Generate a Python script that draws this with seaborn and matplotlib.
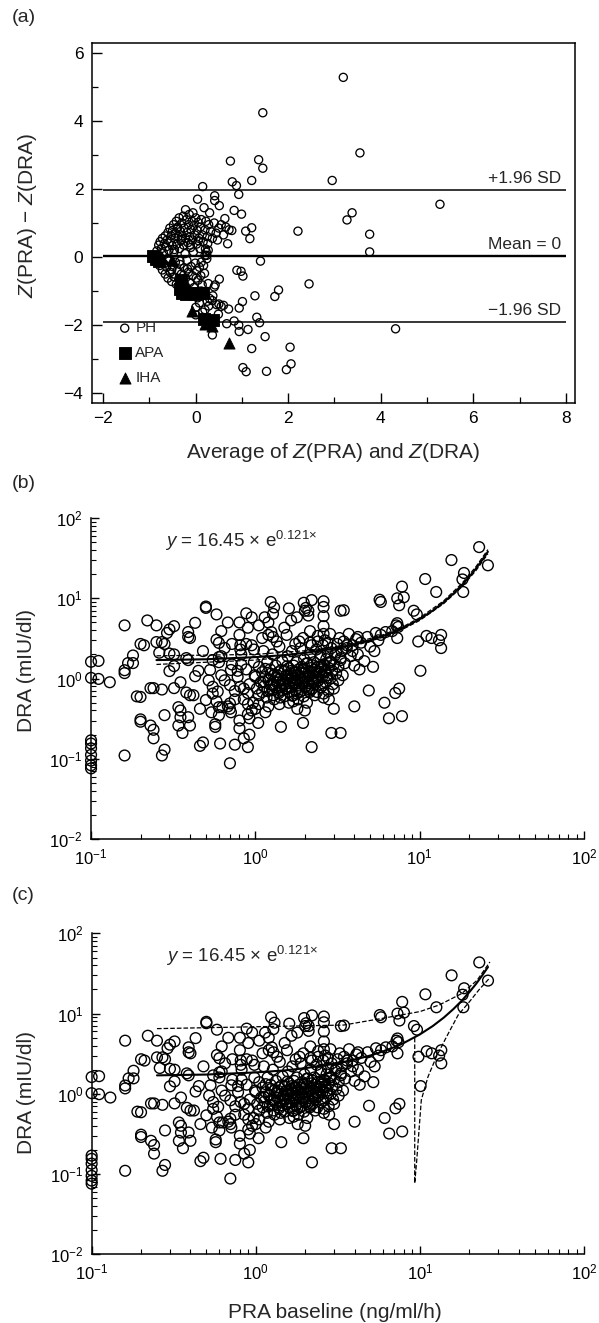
# Bland-Altman plot of PRA vs DRA z-scores, plus DRA vs PRA scatter with exponential fit

import matplotlib
matplotlib.use("Agg")
import matplotlib.pyplot as plt
import seaborn as sns
from matplotlib import font_manager
from matplotlib.ticker import MultipleLocator, LogLocator, NullFormatter

# ---- panel (a): Bland-Altman data ----
ph_avg = [3.19, 1.45, 3.55, 0.75, 1.36, 1.45, 2.95, 1.21, 0.79, 0.88, 0.15, 0.93, 5.28, 0.41, 0.04,
          0.41, 0.51, -0.22, 0.83, 0.99, 3.38, 3.27, 0.63, 1.21, 1.08, 2.21, 1.17, 3.76, 3.76, 0.69,
          1.40, 2.45, 0.89, 1.02, 0.98, 0.51, 1.28, 1.71, 1.79, 1.01, 0.94, 0.71, 4.32, 1.32, 1.38,
          0.93, 0.94, 1.13, 1.50, 1.21, 2.04, 1.02, 1.09, 1.53, 1.96, 2.06, 0.36, 0.67, 0.83, 0.49,
          0.37, 0.36, 0.28, 0.50, 0.60, 0.00, 0.00, 0.18, 0.40, 0.27, 0.42, 0.21, 0.23, 0.24,
          -0.84, -0.80, -0.77, -0.74, -0.72, -0.70, -0.68, -0.66, -0.64, -0.62, -0.60, -0.58, -0.56,
          -0.55, -0.53, -0.51, -0.50, -0.48, -0.47, -0.45, -0.44, -0.42, -0.41, -0.39, -0.38, -0.36,
          -0.35, -0.33, -0.32, -0.30, -0.29, -0.27, -0.26, -0.25, -0.23, -0.22, -0.20, -0.19, -0.17,
          -0.16, -0.14, -0.13, -0.11, -0.10, -0.08, -0.07, -0.05, -0.04, -0.02, 0.00, 0.02, 0.03,
          0.05, 0.07, 0.09, 0.10, 0.12, 0.14, 0.16, 0.18, 0.20, 0.22, 0.25, 0.28, 0.30, 0.32, 0.36,
          0.40, 0.44, 0.47, 0.50, 0.55, 0.60, 0.65, 0.72, 0.78, 0.20, 0.24, 0.27, 0.12,
          -0.82, -0.78, -0.75, -0.72, -0.69, -0.66, -0.63, -0.60, -0.58, -0.55, -0.52, -0.50, -0.47,
          -0.44, -0.42, -0.40, -0.37, -0.34, -0.31, -0.28, -0.25, -0.22, -0.19, -0.16, -0.13, -0.10,
          -0.07, -0.04, -0.01, 0.02, 0.05, 0.08, 0.11, 0.14, 0.17, 0.04, 0.08, -0.02, 0.12, 0.20,
          0.15, 0.45, 0.55, 0.25, 0.30,
          -0.62, -0.46, -0.31, -0.12, 0.06, 0.26, -0.52, -0.34, -0.18, 0.01, 0.19, -0.40, -0.06]
ph_diff = [5.28, 4.24, 3.06, 2.82, 2.86, 2.61, 2.25, 2.25, 2.21, 2.10, 2.07, 1.84, 1.55, 1.80, 1.70,
           1.66, 1.51, 1.39, 1.37, 1.26, 1.30, 1.09, 1.13, 0.86, 0.76, 0.76, 0.54, 0.67, 0.15, 0.39,
           -0.12, -0.79, -0.39, -0.56, -0.42, -0.65, -1.14, -1.16, -0.97, -1.31, -1.50, -1.53, -2.11, -1.77, -1.93,
           -2.00, -2.19, -2.13, -2.34, -2.69, -2.65, -3.25, -3.37, -3.36, -3.31, -3.14, -2.29, -1.96, -1.88, -1.68,
           -1.14, -1.28, -1.44, -1.38, -1.42, -1.48, -1.70, -1.78, -0.88, -0.78, -0.82, 0.24, 0.14, 0.05,
           0.18, 0.35, 0.45, 0.25, 0.55, 0.12, 0.40, 0.62, 0.30, 0.50, 0.72, 0.20, 0.85,
           0.45, 0.62, 0.33, 0.78, 0.95, 0.15, 0.55, 0.70, 1.05, 0.38, 0.88, 0.60, 1.15,
           0.25, 0.75, 0.48, 1.00, 0.62, 1.20, 0.35, 0.85, 0.10, 0.55, 1.10, 0.72, 0.42,
           0.95, 1.25, 0.60, 0.28, 0.80, 1.05, 0.50, 0.15, 0.92, 0.65, 1.15, 0.38, 0.78,
           1.02, 0.55, 0.25, 0.88, 1.10, 0.65, 0.45, 1.45, 0.80, 1.05, 0.60, 0.95, 1.30, 0.75, 0.55,
           1.00, 0.70, 0.50, 0.85, 0.95, 0.65, 0.88, 0.80, 0.78, 0.05, -0.05, 0.20, -0.15,
           -0.12, -0.25, -0.08, -0.38, -0.20, -0.50, -0.30, -0.62, -0.12, -0.45, -0.72, -0.28, -0.58,
           -0.15, -0.80, -0.40, -0.65, -0.22, -0.50, -0.85, -0.32, -0.62, -0.10, -0.45, -0.75, -0.28,
           -0.55, -0.90, -0.18, -0.40, -0.68, -0.30, -0.55, -0.82, -0.25, -1.20, -1.35, -1.05, -1.00, -1.55,
           -1.62, -1.40, -1.45, -1.30, -1.22,
           -0.05, 0.22, 0.52, 0.35, 0.48, 0.40, -0.38, -0.12, -0.35, -0.62, -0.48, 0.85, 1.30]
apa_avg = [-0.93, -0.85, -0.80, -0.31, -0.34, -0.30, -0.22, -0.12, -0.02, 0.08, 0.16, 0.18, 0.38]
apa_diff = [0.03, -0.05, -0.12, -0.67, -0.95, -1.07, -1.10, -1.07, -1.08, -1.06, -1.07, -1.81, -1.86]
iha_avg = [-0.72, -0.52, -0.22, -0.08, 0.20, 0.35, 0.72]
iha_diff = [-0.02, -0.08, -0.78, -1.60, -1.98, -2.02, -2.53]
sd_upper = 1.96
mean_line = 0.03
sd_lower = -1.90

# ---- panels (b) and (c): PRA baseline vs DRA ----
pra = [0.1, 0.1, 0.1, 0.1, 0.1, 0.1, 0.1, 0.1, 0.1, 0.111, 0.111, 0.13, 0.16, 0.16, 0.16, 0.168, 0.18,
       0.18, 0.16, 0.19, 0.2, 0.2, 0.21, 0.22, 0.2, 0.2, 0.23, 0.24, 0.23, 0.24, 0.24, 0.25, 0.25,
       0.26, 0.27, 0.28, 0.27, 0.27, 0.28, 0.28, 0.29, 0.3, 0.32, 0.3, 0.32, 0.3, 0.32, 0.32, 0.34,
       0.34, 0.35, 0.35, 0.36, 0.39, 0.39, 0.39, 0.38, 0.39, 0.4, 0.4, 0.4, 0.43, 0.43, 0.46, 0.48,
       0.46, 0.5, 0.5, 0.5, 0.53, 0.55, 0.54, 0.57, 0.57, 0.58, 0.58, 0.6, 0.6, 0.6, 0.59, 0.6, 0.61,
       0.62, 0.63, 0.68, 0.7, 0.71, 0.7, 0.7, 0.71, 0.75, 0.78, 0.8, 0.8, 0.81, 0.81, 0.81, 0.8, 0.85,
       0.88, 0.9, 0.88, 0.9, 0.9, 0.92, 0.9, 0.95, 0.98, 0.99, 0.97, 1.0, 1.05, 1.04, 1.24, 1.14, 1.2,
       1.28, 1.3, 1.2, 1.28, 1.43, 1.5, 1.6, 1.65, 1.79, 1.85, 1.97, 2.0, 2.03, 2.2, 2.1, 2.1, 2.15,
       1.95, 2.2, 2.6, 2.6, 2.6, 2.6, 2.6, 2.4, 2.9, 3.0, 3.3, 3.45, 3.3, 4.0, 4.9, 5.3, 5.7, 5.8, 6.1,
       6.5, 7.1, 7.5, 7.8, 7.3, 7.8, 8.0, 7.5, 7.3, 7.4, 7.3, 9.2, 9.6, 9.8, 10.1, 10.8, 11.0, 11.8,
       12.6, 13.1, 13.5, 13.5, 15.6, 18.6, 18.2, 18.4, 23.0, 26.0,
       1.00, 1.02, 1.05, 1.05, 1.08, 1.10, 1.10, 1.12, 1.13, 1.15, 1.17, 1.18, 1.20, 1.22, 1.23, 1.25,
       1.27, 1.28, 1.30, 1.32, 1.33, 1.35, 1.37, 1.38, 1.40, 1.41, 1.43, 1.45, 1.46, 1.48, 1.50, 1.50,
       1.52, 1.54, 1.55, 1.57, 1.58, 1.60, 1.60, 1.62, 1.64, 1.65, 1.67, 1.68, 1.70, 1.71, 1.73, 1.75,
       1.76, 1.78, 1.80, 1.82, 1.83, 1.85, 1.87, 1.88, 1.90, 1.92, 1.94, 1.95, 1.97, 1.98, 2.00, 2.02,
       2.04, 2.06, 2.08, 2.10, 2.12, 2.14, 2.16, 2.18, 2.20, 2.22, 2.25, 2.27, 2.30, 2.32, 2.35, 2.37,
       2.40, 2.42, 2.45, 2.48, 2.50, 2.52, 2.55, 2.58, 2.60, 2.62, 2.65, 2.68, 2.70, 2.72, 2.75, 2.78,
       2.80, 2.83, 2.86, 2.90, 2.93, 2.96, 3.00, 3.05, 3.10, 3.15, 3.20, 3.25, 3.30, 3.35, 3.40, 3.45,
       3.50, 3.60, 3.70, 3.80, 3.90, 4.00, 4.10, 4.20, 4.30, 4.40, 4.60, 4.80, 5.00, 5.20, 5.40, 5.60,
       5.80, 6.20, 6.80, 7.20, 0.95, 0.98, 0.92, 0.88, 0.85, 0.82, 0.78, 0.75, 0.72, 0.68, 0.65, 0.62,
       0.58, 0.55, 0.52, 0.48, 0.45, 0.42, 0.38, 0.35, 1.10, 1.25, 1.35, 1.55, 1.75, 1.95, 2.15, 2.40,
       2.65, 2.85, 1.20, 1.40, 1.60, 1.80, 2.00, 1.15, 1.30, 1.05, 0.95, 1.70, 2.30, 2.60, 2.80, 3.00,
       3.20]
dra = [0.17, 0.155, 0.135, 0.112, 0.095, 0.083, 0.076, 1.62, 1.02, 1.66, 0.99, 0.9, 4.6, 1.27, 1.17, 1.56, 1.94,
       1.56, 0.11, 0.6, 0.59, 2.7, 2.6, 5.3, 0.31, 0.29, 0.76, 0.76, 0.26, 0.23, 0.18, 4.6, 2.85,
       2.1, 2.85, 2.7, 0.73, 0.11, 0.35, 0.13, 3.7, 4.1, 4.5, 2.05, 2.0, 1.24, 0.76, 1.43, 0.44,
       0.26, 0.33, 0.4, 0.21, 3.8, 3.3, 1.7, 0.67, 0.33, 0.26, 0.62, 3.2, 1.07, 4.95, 0.145, 0.16,
       0.42, 0.54, 7.9, 7.6, 1.28, 0.79, 0.38, 0.27, 0.25, 6.3, 3.05, 2.78, 1.85, 1.6, 0.69, 0.44, 0.155,
       3.9, 0.44, 5.0, 0.088, 1.28, 0.83, 0.49, 0.38, 0.15, 1.25, 5.0, 3.5, 2.6, 2.3, 0.79, 0.24, 0.18,
       6.5, 4.3, 2.7, 0.66, 0.36, 0.2, 0.14, 5.8, 2.3, 1.1, 0.5, 0.42, 4.6, 0.28, 9.0, 5.8, 5.0,
       6.4, 7.7, 3.5, 3.3, 0.25, 4.3, 7.5, 5.3, 5.8, 2.9, 8.8, 7.0, 7.6, 9.5, 7.0, 6.1, 3.9,
       0.28, 0.14, 9.2, 7.8, 6.0, 4.5, 3.6, 2.9, 0.21, 0.42, 7.0, 7.1, 0.21, 0.45, 0.71, 2.2, 9.6, 9.0, 0.5,
       0.32, 0.66, 0.75, 0.34, 10.0, 14.0, 10.3, 8.2, 4.9, 4.4, 3.2, 7.0, 6.3, 2.9, 1.25, 17.4, 3.4, 3.2,
       12.0, 3.0, 3.5, 2.4, 30.0, 20.7, 17.2, 12.0, 43.5, 25.8,
       1.05, 0.75, 1.40, 0.62, 0.90, 1.20, 0.68, 2.20, 0.80, 1.05, 0.58, 1.60, 0.95, 0.72, 1.30, 0.85,
       2.00, 0.62, 1.10, 0.78, 1.45, 0.90, 0.68, 1.20, 2.50, 0.82, 1.00, 0.72, 1.65, 0.95, 0.60, 1.25,
       0.85, 1.10, 0.75, 1.90, 0.98, 0.68, 1.35, 0.88, 1.15, 0.78, 2.20, 1.02, 0.62, 1.45, 0.90, 1.20,
       0.72, 1.60, 0.95, 0.55, 1.30, 0.82, 1.05, 2.40, 0.70, 1.40, 0.92, 1.15, 0.60, 1.75, 1.00, 0.78,
       1.25, 0.50, 1.55, 0.88, 1.10, 0.68, 2.00, 1.35, 0.95, 0.75, 1.20, 1.60, 0.85, 1.05, 2.30, 0.68,
       1.40, 0.95, 1.15, 1.85, 0.78, 1.30, 1.05, 2.60, 0.65, 1.50, 1.20, 0.90, 1.75, 1.10, 2.10, 0.70,
       1.35, 1.60, 1.00, 2.40, 1.25, 0.85, 1.50, 1.95, 1.15, 2.70, 1.40, 3.20, 1.70, 2.20, 1.10, 2.90,
       1.55, 2.40, 3.60, 1.90, 2.60, 1.45, 3.10, 2.00, 1.30, 2.80, 1.65, 3.30, 2.50, 1.40, 3.70, 3.00,
       3.50, 3.80, 3.90, 4.60, 2.60, 1.60, 0.85, 1.30, 0.55, 2.00, 1.05, 0.70, 1.50, 0.45, 2.40, 1.10,
       0.52, 1.70, 0.95, 2.20, 1.25, 0.62, 1.80, 0.90, 3.20, 3.80, 2.90, 3.50, 2.70, 3.20, 2.80, 3.40,
       3.00, 3.60, 0.45, 0.48, 0.50, 0.42, 0.40, 0.38, 0.55, 0.48, 0.40, 0.52, 0.62, 0.58, 0.55, 0.75,
       0.95]
# the dark core of the cloud
pra_dense = [1.12, 1.18, 1.24, 1.29, 1.34, 1.39, 1.44, 1.49, 1.53, 1.58, 1.63, 1.68, 1.72, 1.77,
             1.82, 1.86, 1.91, 1.96, 2.01, 2.07, 2.13, 2.19, 2.26, 2.33, 2.41, 2.49, 2.57, 2.66,
             1.15, 1.21, 1.27, 1.36, 1.42, 1.47, 1.56, 1.61, 1.66, 1.74, 1.79, 1.89, 1.93, 2.05,
             2.11, 2.24, 2.29, 2.38, 2.46, 2.63, 2.74, 2.88,
             0.55, 0.6, 0.65, 0.7, 0.75, 0.8, 0.85, 0.9, 0.62, 0.72, 0.82, 0.92,
             3.1, 3.3, 3.6, 3.9, 4.2, 2.2, 2.5, 2.75]
dra_dense = [0.92, 0.70, 1.15, 0.83, 1.02, 0.66, 1.28, 0.88, 0.74, 1.08, 0.95, 0.61, 1.22, 0.86,
             1.12, 0.68, 0.99, 1.33, 0.80, 1.05, 0.73, 1.48, 0.90, 1.18, 1.02, 1.38, 0.82, 1.26,
             1.32, 0.98, 0.72, 1.10, 0.58, 0.85, 1.42, 0.77, 1.25, 1.00, 0.65, 1.18, 0.88, 1.55,
             0.70, 1.08, 1.30, 0.92, 1.22, 1.45, 1.02, 1.62,
             0.65, 0.35, 0.95, 0.42, 0.55, 0.30, 0.75, 0.48, 1.9, 2.7, 1.5, 0.32,
             2.1, 1.8, 2.6, 2.2, 3.3, 2.6, 2.0, 2.8]

# fitted curve
curve_x = [0.25, 0.5, 1, 1.5, 2, 3, 4, 5, 6, 7, 8, 10, 12, 14, 16, 18, 20, 22, 24, 26]
curve_y = [1.70, 1.74, 1.85, 1.96, 2.09, 2.36, 2.67, 3.01, 3.40, 3.83, 4.32, 5.51, 7.02, 8.94, 11.4,
           14.5, 18.5, 23.5, 30.0, 38.1]
# 95% confidence band (b)
band_x = [0.25, 1, 2, 3, 4, 6, 8, 10, 14, 18, 22, 26]
band_hi = [1.92, 2.0, 2.22, 2.48, 2.78, 3.52, 4.48, 5.72, 9.3, 15.2, 24.8, 40.5]
band_lo = [1.50, 1.70, 1.96, 2.24, 2.56, 3.28, 4.18, 5.30, 8.6, 13.8, 22.2, 35.8]
# 95% prediction band (c)
pred_hi_x = [0.25, 1.17, 3.43, 5.85, 10, 13.1, 18, 22.3, 26.7]
pred_hi_y = [6.5, 6.9, 7.2, 8.7, 10.6, 12.8, 17.8, 26, 44]
pred_lo_x = [9.3, 9.3, 9.57, 10.2, 11.2, 12.6, 14.5, 17.1, 20, 23, 26.7]
pred_lo_y = [5.0, 0.077, 0.15, 0.84, 1.63, 2.9, 5.1, 9.6, 14, 20, 28]

equation = r"$\mathit{y}$ = 16.45 × e$^{0.121×}$"


def log_panel(ax):
    ax.set_xscale("log")
    ax.set_yscale("log")
    ax.set_xlim(0.1, 100)
    ax.set_ylim(0.01, 100)
    sns.despine(ax=ax)
    for s in ["left", "bottom"]:
        ax.spines[s].set_linewidth(1.1)
        ax.spines[s].set_color("black")
    ax.xaxis.set_minor_locator(LogLocator(base=10, subs=range(2, 10), numticks=20))
    ax.yaxis.set_minor_locator(LogLocator(base=10, subs=range(2, 10), numticks=20))
    ax.xaxis.set_minor_formatter(NullFormatter())
    ax.yaxis.set_minor_formatter(NullFormatter())
    ax.tick_params(which="major", direction="in", length=6, width=1, labelsize=12, pad=6,
                   colors="black")
    ax.tick_params(which="minor", direction="in", length=3.5, width=0.8, colors="black")
    sns.scatterplot(x=pra + pra_dense, y=dra + dra_dense, ax=ax, marker="o", s=60,
                    facecolors="none", edgecolor="black", linewidth=1.0, clip_on=False,
                    legend=False, zorder=3)
    sns.lineplot(x=curve_x, y=curve_y, ax=ax, color="black", linewidth=1.5,
                 estimator=None, sort=False, zorder=4)
    ax.set_xlabel("")
    ax.set_ylabel("")
    ax.text(0.15, 0.93, equation, transform=ax.transAxes, fontsize=13.5, va="center")


def main():
    sns.set_theme(style="ticks")
    names = {f.name for f in font_manager.fontManager.ttflist}
    base = "Liberation Sans" if "Liberation Sans" in names else "DejaVu Sans"
    plt.rcParams["font.family"] = [base, "DejaVu Sans"]
    plt.rcParams["mathtext.fontset"] = "custom"
    plt.rcParams["mathtext.rm"] = base
    plt.rcParams["mathtext.it"] = base + ":italic"
    plt.rcParams["mathtext.default"] = "regular"

    fig = plt.figure(figsize=(5.99, 13.23), dpi=100)
    ax_a = fig.add_axes([0.153, 0.6954, 0.807, 0.2721])
    ax_b = fig.add_axes([0.152, 0.3658, 0.823, 0.2426])
    ax_c = fig.add_axes([0.153, 0.0519, 0.822, 0.2426])

    # ---- (a) ----
    ax_a.hlines([sd_upper, sd_lower], -2, 8, color="black", linewidth=1.1, zorder=1)
    ax_a.hlines(mean_line, -2, 8, color="black", linewidth=1.7, zorder=1)
    sns.scatterplot(x=ph_avg, y=ph_diff, ax=ax_a, marker="o", s=34, facecolors="none",
                    edgecolor="black", linewidth=0.95, label="PH", zorder=3)
    sns.scatterplot(x=apa_avg, y=apa_diff, ax=ax_a, marker="s", s=64, color="black",
                    edgecolor="black", label="APA", zorder=4)
    sns.scatterplot(x=iha_avg, y=iha_diff, ax=ax_a, marker="^", s=64, color="black",
                    edgecolor="black", label="IHA", zorder=4)
    ax_a.set_xlim(-2.25, 8.2)
    ax_a.set_ylim(-4.29, 6.29)
    ax_a.xaxis.set_major_locator(MultipleLocator(2))
    ax_a.xaxis.set_minor_locator(MultipleLocator(1))
    ax_a.yaxis.set_major_locator(MultipleLocator(2))
    ax_a.yaxis.set_minor_locator(MultipleLocator(1))
    ax_a.tick_params(which="major", direction="in", length=7, width=1, labelsize=12.5, pad=6,
                     colors="black")
    ax_a.tick_params(which="minor", direction="in", length=4, width=0.9, colors="black")
    for s in ax_a.spines.values():
        s.set_linewidth(1.1)
        s.set_color("black")
    ax_a.set_xlabel("")
    ax_a.set_ylabel("")
    ax_a.text(7.9, sd_upper + 0.12, "+1.96 SD", ha="right", va="bottom", fontsize=12.5)
    ax_a.text(7.9, mean_line + 0.12, "Mean = 0", ha="right", va="bottom", fontsize=12.5)
    ax_a.text(7.9, sd_lower + 0.12, "−1.96 SD", ha="right", va="bottom", fontsize=12.5)
    ax_a.legend(loc="lower left", bbox_to_anchor=(0.04, 0.03), frameon=False, fontsize=11,
                borderpad=0, handlelength=0.8, handletextpad=0.3, labelspacing=0.7)

    # ---- (b) ----
    log_panel(ax_b)
    sns.lineplot(x=band_x, y=band_hi, ax=ax_b, color="black", linewidth=0.9, linestyle="--",
                 estimator=None, sort=False, zorder=4)
    sns.lineplot(x=band_x, y=band_lo, ax=ax_b, color="black", linewidth=0.9, linestyle="--",
                 estimator=None, sort=False, zorder=4)

    # ---- (c) ----
    log_panel(ax_c)
    sns.lineplot(x=pred_hi_x, y=pred_hi_y, ax=ax_c, color="black", linewidth=0.9, linestyle="--",
                 estimator=None, sort=False, zorder=4)
    sns.lineplot(x=pred_lo_x, y=pred_lo_y, ax=ax_c, color="black", linewidth=0.9, linestyle="--",
                 estimator=None, sort=False, zorder=4)
    for ax in (ax_b, ax_c):
        ax.set_xlabel("")
        ax.set_ylabel("")

    # labels placed in figure pixels
    W, H = 599.0, 1323.0
    lab = dict(fontsize=15, ha="center", va="center")
    fig.text(12 / W, 1 - 18 / H, "(a)", fontsize=14, ha="left", va="center")
    fig.text(12 / W, 1 - 483 / H, "(b)", fontsize=14, ha="left", va="center")
    fig.text(12 / W, 1 - 895 / H, "(c)", fontsize=14, ha="left", va="center")
    fig.text(333 / W, 1 - 453 / H, r"Average of $\mathit{Z}$(PRA) and $\mathit{Z}$(DRA)", **lab)
    fig.text(28 / W, 1 - 215 / H, r"$\mathit{Z}$(PRA) − $\mathit{Z}$(DRA)", rotation=90, **lab)
    fig.text(26 / W, 1 - 670 / H, "DRA (mIU/dl)", rotation=90, **lab)
    fig.text(26 / W, 1 - 1093 / H, "DRA (mIU/dl)", rotation=90, **lab)
    fig.text(335 / W, 1 - 1313 / H, "PRA baseline (ng/ml/h)", **lab)

    fig.savefig("out.png", dpi=100, facecolor="white")
    plt.close(fig)


if __name__ == "__main__":
    main()
